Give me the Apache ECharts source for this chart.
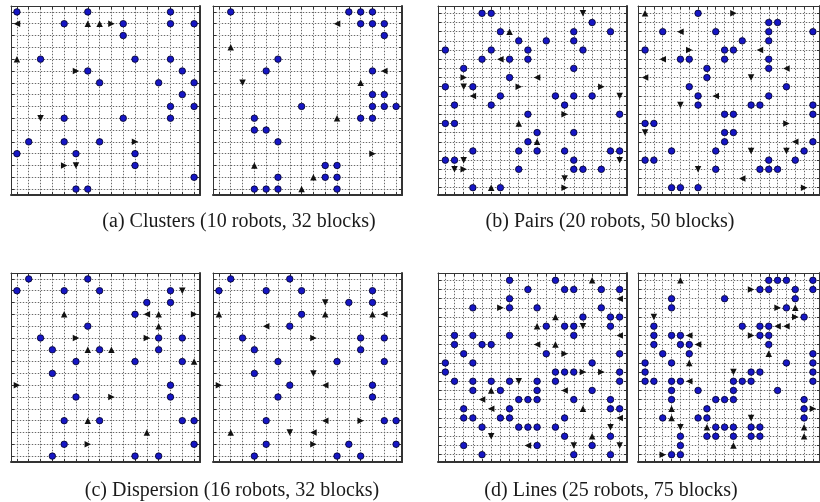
<!DOCTYPE html>
<html>
<head>
<meta charset="utf-8">
<script src="https://cdn.jsdelivr.net/npm/echarts@6.0.0/dist/echarts.min.js"></script>
<style>
  html, body { margin: 0; padding: 0; background: #fff; }
  #chart { width: 820px; height: 502px; }
</style>
</head>
<body>
<div id="chart"></div>
<script>
// blocks: [col, row]   robots: [col, row, heading]   (row 1 = top)
var clustersStartBlocks = [[1,1],[7,1],[14,1],[5,2],[10,2],[14,2],[16,2],[10,3],[3,5],[11,5],[14,5],
  [7,6],[15,6],[8,7],[13,7],[16,7],[15,8],[14,9],[16,9],[5,10],[10,10],[14,10],[2,12],[5,12],[8,12],
  [1,13],[6,13],[11,13],[11,14],[16,15],[6,16],[7,16]];
var clustersStartRobots = [[1,2,'L'],[7,2,'U'],[8,2,'U'],[9,2,'R'],[1,5,'U'],[6,6,'R'],[3,10,'D'],
  [11,12,'R'],[5,14,'R'],[6,14,'D']];
var clustersEndBlocks = [[2,1],[12,1],[13,1],[14,1],[13,2],[14,2],[15,2],[15,3],[6,5],[5,6],[14,6],
  [14,8],[15,8],[8,9],[14,9],[15,9],[16,9],[4,10],[13,10],[14,10],[4,11],[5,11],[6,12],[10,14],[11,14],
  [6,15],[10,15],[11,15],[4,16],[5,16],[6,16],[11,16]];
var clustersEndRobots = [[11,2,'L'],[2,4,'U'],[15,6,'L'],[3,7,'D'],[13,7,'U'],[11,10,'U'],[14,13,'R'],
  [4,14,'U'],[9,15,'U'],[8,16,'U']];

var pairsStartBlocks = [[5,1],[6,1],[17,2],[7,3],[15,3],[19,3],[9,4],[12,4],[15,4],[1,5],[6,5],[10,5],
  [16,5],[5,6],[8,6],[10,6],[3,7],[15,7],[8,8],[1,9],[4,9],[7,10],[13,10],[15,10],[17,10],[2,11],[6,11],
  [14,11],[10,12],[20,12],[1,13],[2,13],[11,14],[15,14],[10,15],[4,16],[9,16],[11,16],[14,16],[19,16],
  [20,16],[1,17],[2,17],[15,17],[9,18],[15,18],[16,18],[18,18],[4,20],[7,20]];
var pairsStartRobots = [[16,1,'D'],[8,3,'U'],[7,6,'L'],[3,8,'R'],[11,8,'L'],[3,9,'D'],[9,9,'R'],
  [18,9,'R'],[4,10,'L'],[20,10,'D'],[14,12,'R'],[9,13,'U'],[11,15,'U'],[3,17,'D'],[20,17,'D'],
  [2,18,'D'],[3,18,'R'],[14,19,'D'],[6,20,'U'],[14,20,'R']];
var pairsEndBlocks = [[7,1],[15,2],[16,2],[3,3],[9,3],[15,3],[20,3],[12,4],[15,4],[1,5],[10,5],[11,5],
  [5,6],[6,6],[10,6],[15,6],[8,7],[15,7],[8,8],[6,9],[17,9],[7,10],[15,10],[7,11],[13,11],[14,11],
  [20,11],[10,12],[11,12],[20,12],[1,13],[2,13],[10,14],[11,14],[10,15],[20,15],[4,16],[9,16],[19,16],
  [1,17],[2,17],[15,17],[18,17],[9,18],[14,18],[15,18],[16,18],[4,20],[5,20],[7,20]];
var pairsEndRobots = [[1,1,'U'],[11,1,'R'],[5,3,'L'],[6,5,'R'],[14,5,'L'],[3,6,'L'],[17,7,'L'],
  [1,8,'L'],[13,8,'D'],[9,10,'L'],[5,11,'D'],[17,13,'R'],[1,14,'D'],[18,15,'L'],[13,16,'D'],
  [17,16,'D'],[7,18,'D'],[12,19,'L'],[19,20,'R']];

var dispersionStartBlocks = [[2,1],[7,1],[1,2],[5,2],[8,2],[14,2],[12,3],[14,3],[11,4],[7,5],[3,6],
  [13,6],[15,6],[4,7],[8,7],[13,7],[6,8],[11,8],[15,8],[4,9],[14,10],[6,11],[14,11],[5,13],[8,13],
  [15,13],[16,13],[5,15],[16,15],[4,16],[11,16],[13,16]];
var dispersionStartRobots = [[15,2,'D'],[5,4,'U'],[12,4,'L'],[13,4,'U'],[16,4,'R'],[13,5,'U'],
  [6,6,'R'],[12,6,'R'],[7,7,'U'],[9,7,'U'],[16,8,'U'],[1,10,'R'],[9,11,'R'],[7,13,'U'],[12,14,'U'],
  [7,15,'R']];
var dispersionEndBlocks = [[2,1],[7,1],[1,2],[5,2],[8,2],[14,2],[12,3],[14,3],[8,4],[7,5],[3,6],
  [13,6],[15,6],[4,7],[13,7],[6,8],[11,8],[15,8],[4,9],[7,10],[14,10],[6,11],[14,11],[5,13],[15,13],
  [16,13],[5,15],[12,15],[16,15],[4,16],[11,16],[13,16]];
var dispersionEndRobots = [[10,3,'D'],[1,4,'U'],[10,4,'U'],[14,4,'U'],[15,4,'L'],[5,5,'L'],[9,6,'R'],
  [9,9,'D'],[1,10,'R'],[10,10,'L'],[10,13,'L'],[13,13,'R'],[2,14,'U'],[7,14,'D'],[9,14,'L'],[9,15,'R']];

var linesStartBlocks = [[8,1],[13,1],[10,2],[14,2],[15,2],[18,2],[20,2],[8,3],[4,4],[8,4],[11,4],
  [18,4],[16,5],[19,5],[20,5],[12,6],[14,6],[15,6],[19,6],[2,7],[4,7],[8,7],[15,7],[2,8],[5,8],[6,8],
  [3,9],[12,9],[20,9],[1,10],[4,10],[17,10],[1,11],[13,11],[14,11],[15,11],[20,11],[2,12],[4,12],
  [6,12],[8,12],[11,12],[13,12],[20,12],[4,13],[7,13],[11,13],[17,13],[9,14],[10,14],[11,14],[15,14],
  [19,14],[3,15],[8,15],[19,15],[20,15],[3,16],[4,16],[7,16],[8,16],[14,16],[5,17],[9,17],[10,17],
  [11,17],[13,17],[14,18],[19,18],[3,19],[11,19],[17,19],[5,20],[15,20],[19,20]];
var linesStartRobots = [[17,1,'U'],[20,3,'L'],[7,4,'R'],[13,5,'U'],[11,6,'U'],[16,6,'D'],[20,7,'L'],
  [11,8,'L'],[13,8,'U'],[14,9,'R'],[16,11,'R'],[18,11,'R'],[9,12,'D'],[6,13,'U'],[14,13,'L'],
  [5,14,'L'],[6,15,'L'],[16,15,'U'],[20,16,'L'],[19,17,'D'],[6,18,'D'],[17,18,'U'],[10,19,'L'],
  [15,19,'D'],[20,19,'D']];
var linesEndBlocks = [[15,1],[16,1],[17,1],[20,1],[14,2],[15,2],[18,2],[20,2],[4,3],[10,3],[18,3],
  [4,4],[17,4],[19,5],[2,6],[12,6],[14,6],[15,6],[2,7],[4,7],[5,7],[14,7],[15,7],[2,8],[5,8],[6,8],
  [15,8],[3,9],[6,9],[20,9],[1,10],[4,10],[17,10],[20,10],[1,11],[13,11],[14,11],[20,11],[1,12],
  [2,12],[4,12],[5,12],[11,12],[12,12],[13,12],[20,12],[4,13],[7,13],[11,13],[16,13],[4,14],[9,14],
  [10,14],[11,14],[19,14],[8,15],[19,15],[3,16],[7,16],[8,16],[19,16],[9,17],[10,17],[11,17],[13,17],
  [14,17],[5,18],[8,18],[9,18],[11,18],[13,18],[14,18],[5,19],[4,20],[5,20]];
var linesEndRobots = [[5,1,'U'],[13,2,'R'],[16,4,'R'],[18,4,'U'],[2,5,'D'],[18,5,'R'],[16,6,'L'],
  [17,6,'L'],[6,7,'L'],[13,7,'R'],[7,8,'L'],[15,9,'U'],[6,10,'U'],[11,11,'D'],[6,12,'L'],[4,15,'U'],
  [20,15,'R'],[4,16,'U'],[13,16,'D'],[5,17,'D'],[8,17,'U'],[19,17,'U'],[19,18,'U'],[11,19,'U'],
  [3,20,'R']];

var captions = ['(a) Clusters (10 robots, 32 blocks)', '(b) Pairs (20 robots, 50 blocks)',
  '(c) Dispersion (16 robots, 32 blocks)', '(d) Lines (25 robots, 75 blocks)'];

var chart = echarts.init(document.getElementById('chart'));
var headingRot = { U: 0, L: 90, D: 180, R: -90 };

var panels = [
  { n: 16, blocks: clustersStartBlocks, robots: clustersStartRobots, left: 11, top: 6 },
  { n: 16, blocks: clustersEndBlocks, robots: clustersEndRobots, left: 213, top: 6 },
  { n: 20, blocks: pairsStartBlocks, robots: pairsStartRobots, left: 438, top: 6 },
  { n: 20, blocks: pairsEndBlocks, robots: pairsEndRobots, left: 638, top: 6 },
  { n: 16, blocks: dispersionStartBlocks, robots: dispersionStartRobots, left: 11, top: 273 },
  { n: 16, blocks: dispersionEndBlocks, robots: dispersionEndRobots, left: 213, top: 273 },
  { n: 20, blocks: linesStartBlocks, robots: linesStartRobots, left: 438, top: 273 },
  { n: 20, blocks: linesEndBlocks, robots: linesEndRobots, left: 638, top: 273 }
];
var captionPos = [[239, 222], [610, 222], [232, 491], [611, 491]];

function cells(n) {
  var t = [];
  for (var i = 1; i <= n; i++) t.push(i);
  return t;
}

// one axis per frame side; the dotted sides draw over the light solid ones
function axis(idx, n, pos, dotted, inverse) {
  var pad = n == 16 ? 0.5 : 0.8;
  return {
    type: 'value', gridIndex: idx, position: pos,
    min: 1 - pad, max: n + pad, inverse: inverse,
    axisLine: { show: true, onZero: false, lineStyle: { color: '#333', width: dotted ? 1 : 2 } },
    axisTick: { show: true, inside: true, length: 3, customValues: cells(n), lineStyle: { color: '#333' } },
    axisLabel: { show: false, customValues: cells(n) },
    splitLine: {
      show: true,
      lineStyle: dotted ? { color: '#6a6a6a', type: [1, 2], width: 1 } : { color: '#dedede', width: 1 }
    }
  };
}

var grid = [], xAxis = [], yAxis = [], series = [];
panels.forEach(function (p, i) {
  grid.push({ left: p.left, top: p.top, width: 189, height: 189 });
  xAxis.push(axis(i, p.n, 'bottom', false, false));
  xAxis.push(axis(i, p.n, 'top', true, false));
  yAxis.push(axis(i, p.n, 'right', false, true));
  yAxis.push(axis(i, p.n, 'left', true, true));
  series.push({
    type: 'scatter', xAxisIndex: 2 * i, yAxisIndex: 2 * i,
    symbol: 'circle', symbolSize: 6.5,
    itemStyle: { color: '#1616c4', borderColor: '#000022', borderWidth: 0.8, opacity: 1 },
    data: p.blocks
  });
  series.push({
    type: 'scatter', xAxisIndex: 2 * i, yAxisIndex: 2 * i,
    symbol: 'triangle', symbolSize: 6.5,
    itemStyle: { color: '#111', opacity: 1 },
    data: p.robots.map(function (r) {
      return { value: [r[0], r[1]], symbolRotate: headingRot[r[2]] };
    })
  });
});

var option = {
  animation: false,
  grid: grid,
  xAxis: xAxis,
  yAxis: yAxis,
  series: series,
  graphic: captions.map(function (t, i) {
    return {
      type: 'text', x: captionPos[i][0], y: captionPos[i][1],
      style: { text: t, font: '20px "Liberation Serif"', fill: '#1a1a1a', align: 'center', verticalAlign: 'middle' }
    };
  })
};
chart.setOption(option);
</script>
</body>
</html>
